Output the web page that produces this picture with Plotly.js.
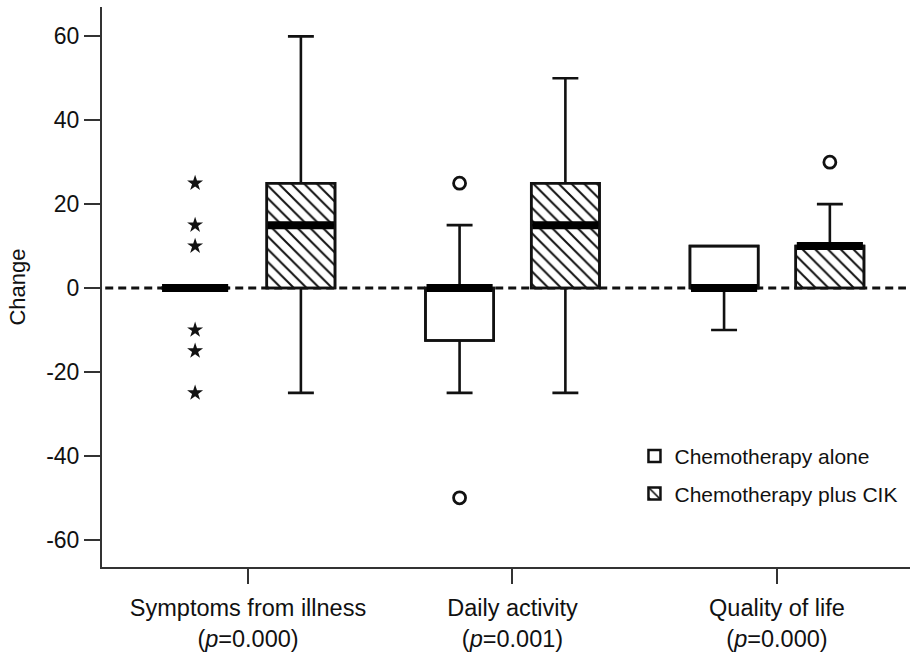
<!DOCTYPE html>
<html>
<head>
<meta charset="utf-8">
<script src="https://cdn.plot.ly/plotly-3.0.1.min.js"></script>
<style>html,body{margin:0;padding:0;background:#fff;}#chart{width:912px;height:653px;}</style>
</head>
<body>
<div id="chart"></div>
<script>
// ---- data ----
var categories = ["Symptoms from illness<br>(<i>p</i>=0.000)", "Daily activity<br>(<i>p</i>=0.001)", "Quality of life<br>(<i>p</i>=0.000)"];
var groupNames = ["Chemotherapy alone", "Chemotherapy plus CIK"];

var aloneQ1 = [0, -12.5, 0];
var aloneMedian = [0, 0, 0];
var aloneQ3 = [0, 0, 10];
var aloneLower = [0, -25, -10];
var aloneUpper = [0, 15, 10];
var aloneOutlierCat = [1, 1];
var aloneOutlierVal = [25, -50];
var aloneExtremeCat = [0, 0, 0, 0, 0, 0];
var aloneExtremeVal = [25, 15, 10, -10, -15, -25];

var cikQ1 = [0, 0, 0];
var cikMedian = [15, 15, 10];
var cikQ3 = [25, 25, 10];
var cikLower = [-25, -25, 0];
var cikUpper = [60, 50, 20];
var cikOutlierCat = [2];
var cikOutlierVal = [30];

var yTicks = [-60, -40, -20, 0, 20, 40, 60];
var yTickText = ["-60", "-40", "-20", "0", "20", "40", "60"];

// ---- layout helpers ----
var OFF = 0.2, W = 0.258;
var catIdx = categories.map(function (c, i) { return i; });
function pos(idxArr, sign) { return idxArr.map(function (i) { return i + sign * OFF; }); }
function medianSeg(xs, med) {
  var X = [], Y = [];
  xs.forEach(function (x, i) { X.push(x - W / 2 + 0.004, x + W / 2 - 0.004, null); Y.push(med[i], med[i], null); });
  return {x: X, y: Y};
}
function diff(a, b) { return a.map(function (v, i) { return v - b[i]; }); }

var xA = pos(catIdx, -1), xC = pos(catIdx, 1);
var mA = medianSeg(xA, aloneMedian), mC = medianSeg(xC, cikMedian);
var font = "Arial, 'Liberation Sans', sans-serif";

var traces = [
  {type: 'bar', name: groupNames[0], x: xA, base: aloneQ1, y: diff(aloneQ3, aloneQ1), width: W,
   marker: {color: '#fff', line: {color: '#111', width: 2.5}}, legendgroup: 'a', hoverinfo: 'skip'},
  {type: 'bar', name: groupNames[1], x: xC, base: cikQ1, y: diff(cikQ3, cikQ1), width: W,
   marker: {color: '#fff', line: {color: '#111', width: 2.5},
            pattern: {shape: '\\', size: 9, solidity: 0.22, fgcolor: '#111', bgcolor: '#fff'}},
   legendgroup: 'c', hoverinfo: 'skip'},
  {type: 'box', x: xA, q1: aloneQ1, median: aloneMedian, q3: aloneQ3, lowerfence: aloneLower, upperfence: aloneUpper,
   width: W, whiskerwidth: 0.38, fillcolor: 'rgba(0,0,0,0)', line: {color: '#111', width: 2.6}, boxpoints: false, showlegend: false},
  {type: 'box', x: xC, q1: cikQ1, median: cikMedian, q3: cikQ3, lowerfence: cikLower, upperfence: cikUpper,
   width: W, whiskerwidth: 0.38, fillcolor: 'rgba(0,0,0,0)', line: {color: '#111', width: 2.6}, boxpoints: false, showlegend: false},
  {type: 'scatter', mode: 'lines', x: mA.x, y: mA.y, line: {color: '#000', width: 8}, showlegend: false, hoverinfo: 'skip'},
  {type: 'scatter', mode: 'lines', x: mC.x, y: mC.y, line: {color: '#000', width: 8}, showlegend: false, hoverinfo: 'skip'},
  {type: 'scatter', mode: 'markers', x: pos(aloneExtremeCat, -1), y: aloneExtremeVal,
   marker: {symbol: 'star', size: 12, color: '#111'}, showlegend: false},
  {type: 'scatter', mode: 'markers', x: pos(aloneOutlierCat, -1), y: aloneOutlierVal,
   marker: {symbol: 'circle-open', size: 12, color: '#111', line: {width: 2.8}}, showlegend: false},
  {type: 'scatter', mode: 'markers', x: pos(cikOutlierCat, 1), y: cikOutlierVal,
   marker: {symbol: 'circle-open', size: 12, color: '#111', line: {width: 2.8}}, showlegend: false}
];

var layout = {
  width: 912, height: 653,
  margin: {l: 102, r: 2, t: 7, b: 86},
  paper_bgcolor: '#fff', plot_bgcolor: '#fff',
  barmode: 'overlay', boxmode: 'overlay',
  font: {family: font, color: '#111'},
  showlegend: true,
  legend: {x: 0.659, y: 0.234, xanchor: 'left', yanchor: 'top', traceorder: 'grouped', tracegroupgap: 7,
           font: {size: 21, family: font, color: '#111'}, bgcolor: 'rgba(0,0,0,0)'},
  xaxis: {range: [-0.552, 2.503], tickmode: 'array', tickvals: catIdx, ticktext: categories,
          ticks: 'outside', ticklen: 15, tickwidth: 2, tickcolor: '#333', ticklabelstandoff: 4,
          showline: true, linewidth: 2, linecolor: '#333', showgrid: false, zeroline: false,
          tickfont: {size: 23.5, family: font, color: '#111'}, fixedrange: true},
  yaxis: {range: [-66.5, 67], tickmode: 'array', tickvals: yTicks, ticktext: yTickText,
          ticks: 'outside', ticklen: 16, tickwidth: 2, tickcolor: '#333',
          showline: true, linewidth: 2, linecolor: '#333', showgrid: false, zeroline: false,
          tickfont: {size: 23, family: font, color: '#111'},
          title: {text: 'Change', font: {size: 22, family: font, color: '#111'}, standoff: 14}},
  shapes: [{type: 'line', xref: 'paper', yref: 'y', x0: 0.004, x1: 0.995, y0: 0, y1: 0,
            line: {color: '#111', width: 3, dash: '8px,5px'}, layer: 'below'}]
};

Plotly.newPlot('chart', traces, layout, {displayModeBar: false, staticPlot: true});
</script>
</body>
</html>
